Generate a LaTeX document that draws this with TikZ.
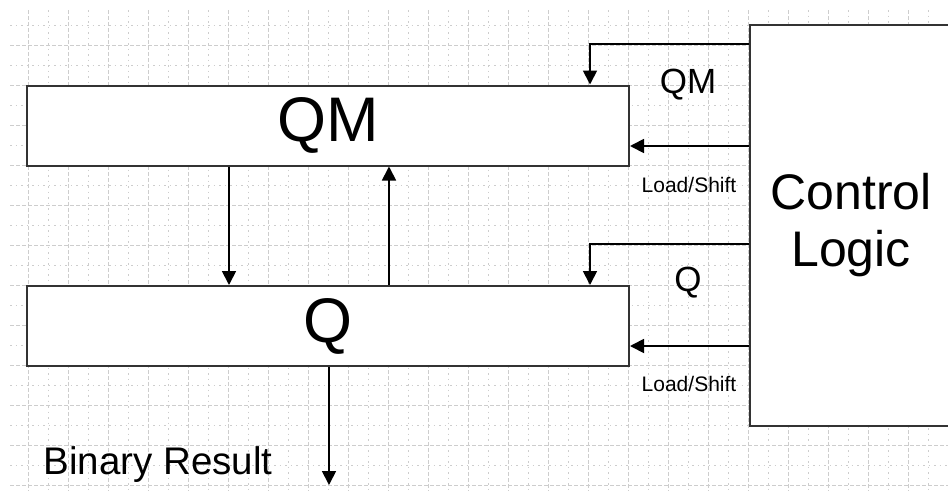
\documentclass[tikz,border=0pt]{standalone}
\usepackage{fontspec}
\setmainfont{Liberation Sans}
\usetikzlibrary{arrows.meta,calc}
\definecolor{gridgray}{HTML}{CDCDCD}
\definecolor{boxline}{HTML}{333333}
\tikzset{
    regbox/.style={draw=boxline,fill=white,line width=2pt,
      minimum width=602pt,minimum height=80pt,inner sep=0pt,
      font=\fontsize{63}{70}\selectfont},
    ctrlbox/.style={draw=boxline,fill=white,line width=2pt,
      minimum width=202pt,minimum height=401pt,inner sep=0pt,
      align=center,font=\fontsize{50}{57}\selectfont},
    sigarrow/.style={-{Triangle[length=14pt,width=14pt]},draw=black,
      line width=1.8pt},
    siglabel/.style={inner sep=0pt,font=\fontsize{35}{40}\selectfont},
    smalllabel/.style={inner sep=0pt,font=\fontsize{21}{24}\selectfont},
    gridmajor/.style={draw=gridgray,line width=0.9pt,dash pattern=on 4pt off 2pt},
    gridminor/.style={draw=gridgray,line width=0.9pt,dash pattern=on 1.5pt off 4pt}
}
\begin{document}
\begin{tikzpicture}[x=1pt,y=-1pt]
  \useasboundingbox (0,0) rectangle (948,491);
  % background grid
  \foreach \y in {45,85,...,485}{\draw[gridmajor] (10,\y)--(948,\y);}
  \foreach \y in {25,65,...,465}{\draw[gridminor] (10,\y)--(948,\y);}
  \foreach \x in {28,68,...,948}{\draw[gridmajor] (\x,10)--(\x,491);}
  \foreach \x in {48,88,...,928}{\draw[gridminor] (\x,10)--(\x,491);}
  % registers and control block
  \node[regbox] (qm) at (328,125.5) {QM};
  \node[regbox] (q) at (328,326) {Q};
  \node[ctrlbox,anchor=west] (ctrl) at (749,225.5) {Control\\Logic};
  % control lines
  \coordinate (qmls) at ($(qm.east)+(0,20.5)$);
  \coordinate (qls) at ($(q.east)+(0,20)$);
  \draw[sigarrow] ($(ctrl.north west)+(0,20)$) -| ($(qm.north east)+(-40,0)$);
  \draw[sigarrow] (ctrl.west |- qmls) -- (qmls);
  \draw[sigarrow] ($(ctrl.north west)+(0,220)$) -| ($(q.north east)+(-40,0)$);
  \draw[sigarrow] (ctrl.west |- qls) -- (qls);
  \node[siglabel] (qmlbl) at (688,85) {QM};
  \node[smalllabel] (qmlslbl) at (689,185) {Load/Shift};
  \node[siglabel] (qlbl) at (688,283) {Q};
  \node[smalllabel] (qlslbl) at (689,384) {Load/Shift};
  % data paths
  \draw[sigarrow] ($(qm.south west)+(203,0)$) -- ($(q.north west)+(203,0)$);
  \draw[sigarrow] ($(q.north west)+(363,0)$) -- ($(qm.south west)+(363,0)$);
  \coordinate (res) at (329,485);
  \draw[sigarrow] (q.south -| res) -- (res);
  \node[inner sep=0pt,font=\fontsize{38.5}{42}\selectfont] (reslbl) at (158,465) {Binary Result};
\end{tikzpicture}
\end{document}
